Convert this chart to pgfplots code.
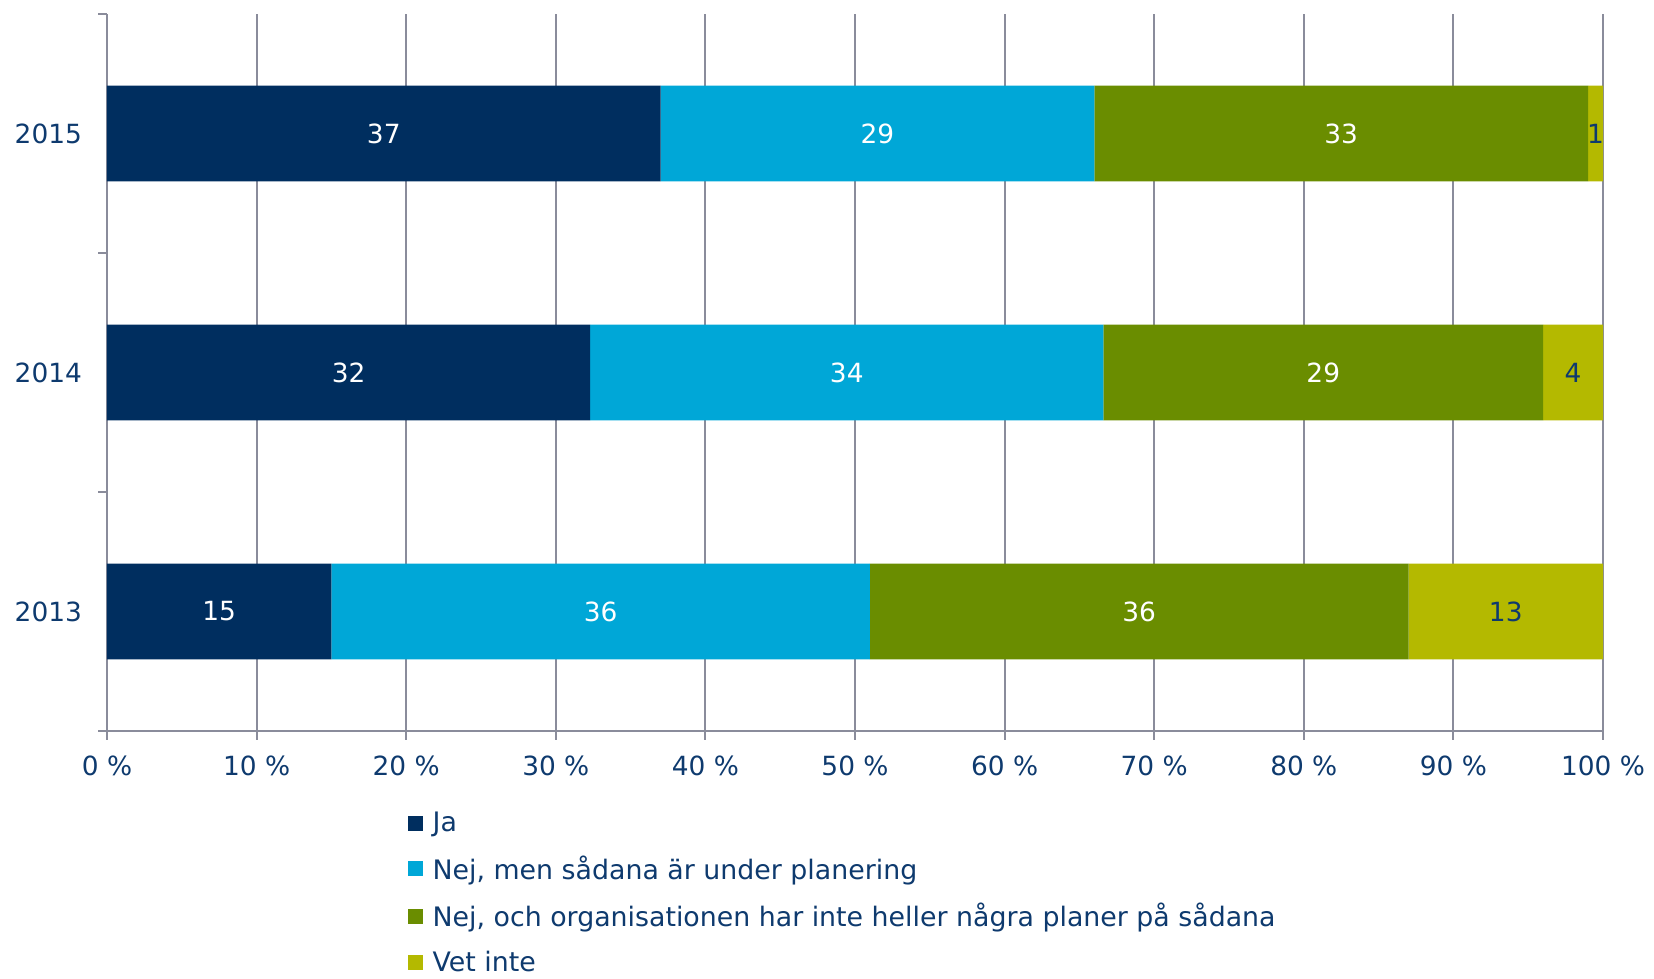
\documentclass[border=0pt]{standalone}
\usepackage{pgfplots}
\pgfplotsset{compat=1.18}
\usepackage{fontspec}
\setmainfont{DejaVu Sans}
\definecolor{cJa}{HTML}{002E5F}
\definecolor{cNejMen}{HTML}{00A7D7}
\definecolor{cNejOch}{HTML}{6A8D00}
\definecolor{cVet}{HTML}{B4B900}
\definecolor{txt}{HTML}{0E3A6E}
\definecolor{gridc}{HTML}{8A8C9B}
\pgfplotsset{
  common/.style={scale only axis, width=748pt, height=358.5pt,
    xmin=0, xmax=100, ymin=-0.5, ymax=2.5},
}
\begin{document}
\begin{tikzpicture}
\begin{axis}[
  common,
  xbar stacked, bar width=0.4,
  axis x line*=bottom, axis y line*=left,
  axis line style={gridc, line width=1pt},
  xtick={0,10,...,100},
  xticklabels={0 \%,10 \%,20 \%,30 \%,40 \%,50 \%,60 \%,70 \%,80 \%,90 \%,100 \%},
  xmajorgrids, grid style={gridc, line width=1pt},
  tick align=outside, major tick length=4.5pt,
  tick style={gridc, line width=1pt},
  ytick={-0.5,0.5,1.5,2.5}, yticklabels={},
  extra y ticks={0,1,2}, extra y tick labels={2013,2014,2015},
  extra y tick style={major tick length=0pt, yticklabel style={xshift=-9pt}},
  tick label style={font=\fontsize{13.2}{15}\selectfont, text=txt},
  xticklabel style={yshift=-4.5pt},
  legend image code/.code={\fill[#1] (0pt,-3.75pt) rectangle (7.5pt,3.75pt); \path (9.6pt,0pt);},
  legend style={at={(0.1972,-0.101)}, anchor=north west, draw=none, fill=none, overlay,
    font=\fontsize{13.4}{15}\selectfont, text=txt, row sep=6.6pt,
    nodes={inner xsep=2.5pt}},
  legend cell align=left,
]
\addplot[fill=cJa, draw=none] coordinates {(15,0) (32.3,1) (37,2)};
\addplot[fill=cNejMen, draw=none] coordinates {(36,0) (34.3,1) (29,2)};
\addplot[fill=cNejOch, draw=none] coordinates {(36,0) (29.4,1) (33,2)};
\addplot[fill=cVet, draw=none] coordinates {(13,0) (4.0,1) (1,2)};
\legend{Ja, {Nej, men sådana är under planering}, {Nej, och organisationen har inte heller några planer på sådana}, Vet inte}
\end{axis}
\begin{axis}[
  common, hide axis,
  point meta=explicit symbolic,
  nodes near coords,
  every node near coord/.append style={anchor=center, font=\fontsize{13.2}{15}\selectfont},
]
\addplot[draw=none, mark=none, every node near coord/.append style={text=white}]
  coordinates {(7.5,0) [15] (16.15,1) [32] (18.5,2) [37]};
\addplot[draw=none, mark=none, every node near coord/.append style={text=white}]
  coordinates {(33,0) [36] (49.45,1) [34] (51.5,2) [29]};
\addplot[draw=none, mark=none, every node near coord/.append style={text=white}]
  coordinates {(69,0) [36] (81.3,1) [29] (82.5,2) [33]};
\addplot[draw=none, mark=none, every node near coord/.append style={text=txt}]
  coordinates {(93.5,0) [13] (98,1) [4] (99.5,2) [1]};
\end{axis}
\useasboundingbox ([xshift=-53.5pt,yshift=-124pt]current axis.south west) rectangle ([xshift=25.5pt,yshift=7pt]current axis.north east);
\end{tikzpicture}
\end{document}
